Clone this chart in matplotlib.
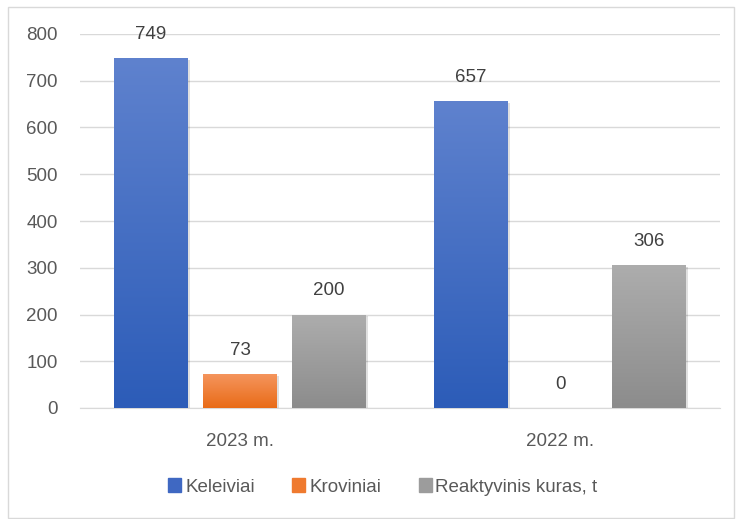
import numpy as np
import matplotlib.pyplot as plt
from matplotlib.patches import Rectangle
from matplotlib.colors import LinearSegmentedColormap

categories = ["2023 m.", "2022 m."]
series_names = ["Keleiviai", "Kroviniai", "Reaktyvinis kuras, t"]
keleiviai = [749, 657]
kroviniai = [73, 0]
kuras = [200, 306]
yticks = [0, 100, 200, 300, 400, 500, 600, 700, 800]

# top colour, bottom colour of each gradient bar
grads = [("#5F82CE", "#2C5CB8"), ("#F5965F", "#E96B17"), ("#ADADAD", "#8C8C8C")]
legend_colors = ["#3F68C2", "#EF7A2F", "#9C9C9C"]

plt.rcParams['font.family'] = ['Liberation Sans', 'DejaVu Sans']
text_col = "#595959"
fs = 13.5

fig = plt.figure(figsize=(7.36, 5.19), dpi=100)
fig.patches.append(Rectangle((8 / 736, 1 / 519), 726 / 736, 511 / 519, transform=fig.transFigure,
                             fill=False, edgecolor="#D9D9D9", linewidth=1))
ax = fig.add_axes([80 / 736, (519 - 408) / 519, 640 / 736, 374 / 519])

x = np.arange(len(categories))
width = 0.231
step = 0.278
series = [keleiviai, kroviniai, kuras]

for i, vals in enumerate(series):
    pos = x + (i - 1) * step
    cmap = LinearSegmentedColormap.from_list("g%d" % i, [grads[i][1], grads[i][0]])
    bars = ax.bar(pos, vals, width, color="none", edgecolor="none", zorder=3)
    for b, v in zip(bars, vals):
        if v <= 0:
            continue
        # soft shadow
        ax.add_patch(Rectangle((b.get_x() + 0.006, 0), b.get_width(), v - 4,
                               facecolor="#000000", alpha=0.12, zorder=2, linewidth=0))
        grad = np.linspace(0, 1, 256).reshape(-1, 1)
        im = ax.imshow(grad, cmap=cmap, origin="lower", aspect="auto",
                       extent=(b.get_x(), b.get_x() + b.get_width(), 0, v), zorder=3)
        im.set_clip_path(b)
    for p, v in zip(pos, vals):
        ax.annotate(str(v), (p, v), xytext=(0, 11), textcoords="offset points",
                    ha="center", va="bottom", fontsize=fs, color="#404040")

ax.set_xlim(-0.5, 1.5)
ax.set_ylim(0, 800)
ax.set_yticks(yticks)
ax.set_xticks(x)
ax.set_xticklabels(categories)
ax.tick_params(axis="y", length=0, pad=16, labelsize=fs, labelcolor=text_col)
ax.tick_params(axis="x", length=0, pad=18, labelsize=fs, labelcolor=text_col)
ax.grid(axis="y", color="#D9D9D9", linewidth=1, zorder=0)
ax.set_axisbelow(True)
for s in ["top", "right", "left"]:
    ax.spines[s].set_visible(False)
ax.spines["bottom"].set_color("#D9D9D9")

handles = [Rectangle((0, 0), 1, 1, color=c) for c in legend_colors]
fig.legend(handles, series_names, loc="center", bbox_to_anchor=(383 / 736, 1 - 487 / 519),
           ncol=3, frameon=False, fontsize=fs, labelcolor=text_col,
           handlelength=0.7, handleheight=0.7, handletextpad=0.2, columnspacing=2.0)

fig.savefig("out.png", dpi=100)
